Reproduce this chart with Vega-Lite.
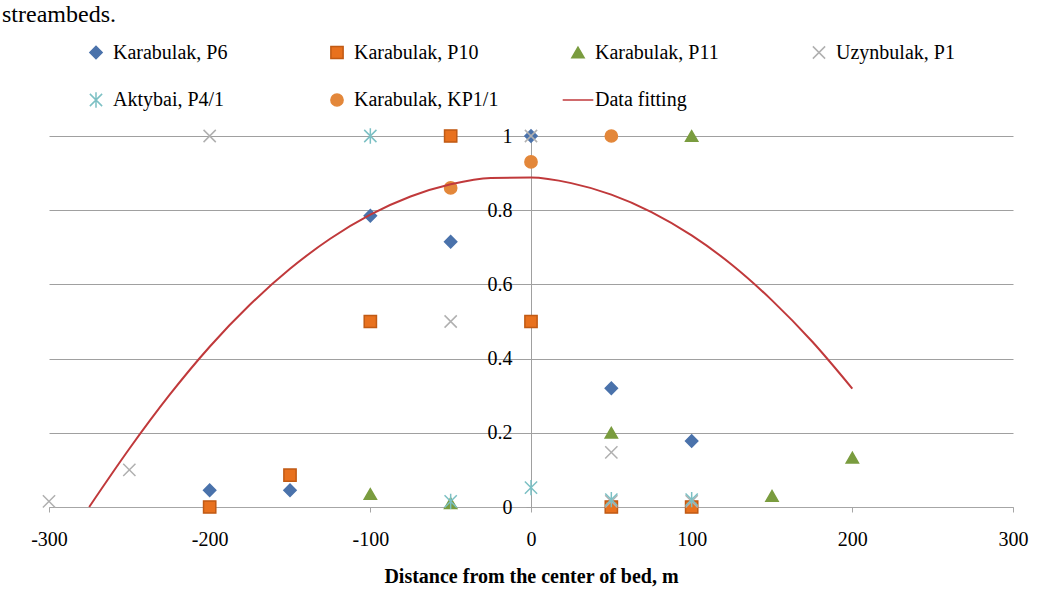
{
  "$schema": "https://vega.github.io/schema/vega-lite/v6.json",
  "width": 964,
  "height": 371,
  "autosize": {"type": "none"},
  "padding": {"left": 49, "top": 136, "right": 25, "bottom": 98},
  "background": "white",
  "title": {"text": "streambeds.", "anchor": "start", "frame": "group", "fontSize": 24, "font": "Liberation Serif", "fontWeight": "normal", "color": "black", "baseline": "top", "offset": 15, "dx": -47},
  "config": {"view": {"stroke": null}, "font": "Liberation Serif"},
  "datasets": {
    "points": [
      {"series": "Karabulak, P6", "x": -200, "y": 0.045},
      {"series": "Karabulak, P6", "x": -150, "y": 0.045},
      {"series": "Karabulak, P6", "x": -100, "y": 0.785},
      {"series": "Karabulak, P6", "x": -50, "y": 0.715},
      {"series": "Karabulak, P6", "x": 0, "y": 1},
      {"series": "Karabulak, P6", "x": 50, "y": 0.32},
      {"series": "Karabulak, P6", "x": 100, "y": 0.178},
      {"series": "Karabulak, P10", "x": -200, "y": 0},
      {"series": "Karabulak, P10", "x": -150, "y": 0.086},
      {"series": "Karabulak, P10", "x": -100, "y": 0.5},
      {"series": "Karabulak, P10", "x": -50, "y": 1},
      {"series": "Karabulak, P10", "x": 0, "y": 0.5},
      {"series": "Karabulak, P10", "x": 50, "y": 0},
      {"series": "Karabulak, P10", "x": 100, "y": 0},
      {"series": "Karabulak, P11", "x": -100, "y": 0.035},
      {"series": "Karabulak, P11", "x": -50, "y": 0.01},
      {"series": "Karabulak, P11", "x": 50, "y": 0.2},
      {"series": "Karabulak, P11", "x": 100, "y": 1},
      {"series": "Karabulak, P11", "x": 150, "y": 0.03},
      {"series": "Karabulak, P11", "x": 200, "y": 0.133},
      {"series": "Uzynbulak, P1", "x": -300, "y": 0.015},
      {"series": "Uzynbulak, P1", "x": -250, "y": 0.1},
      {"series": "Uzynbulak, P1", "x": -200, "y": 1},
      {"series": "Uzynbulak, P1", "x": -50, "y": 0.5},
      {"series": "Uzynbulak, P1", "x": 0, "y": 1},
      {"series": "Uzynbulak, P1", "x": 50, "y": 0.147},
      {"series": "Uzynbulak, P1", "x": 50, "y": 0.015},
      {"series": "Uzynbulak, P1", "x": 100, "y": 0.015},
      {"series": "Aktybai, P4/1", "x": -100, "y": 1},
      {"series": "Aktybai, P4/1", "x": -50, "y": 0.015},
      {"series": "Aktybai, P4/1", "x": 0, "y": 0.052},
      {"series": "Aktybai, P4/1", "x": 50, "y": 0.02},
      {"series": "Aktybai, P4/1", "x": 100, "y": 0.02},
      {"series": "Karabulak, KP1/1", "x": -50, "y": 0.86},
      {"series": "Karabulak, KP1/1", "x": 0, "y": 0.93},
      {"series": "Karabulak, KP1/1", "x": 50, "y": 1}
    ],
    "fit": [
      {"x": -275, "y": 0},
      {"x": -250, "y": 0.157},
      {"x": -225, "y": 0.302},
      {"x": -200, "y": 0.432},
      {"x": -175, "y": 0.545},
      {"x": -150, "y": 0.642},
      {"x": -125, "y": 0.723},
      {"x": -100, "y": 0.788},
      {"x": -75, "y": 0.837},
      {"x": -50, "y": 0.87},
      {"x": -25, "y": 0.887},
      {"x": 0, "y": 0.888},
      {"x": 25, "y": 0.873},
      {"x": 50, "y": 0.842},
      {"x": 75, "y": 0.795},
      {"x": 100, "y": 0.732},
      {"x": 125, "y": 0.653},
      {"x": 150, "y": 0.557},
      {"x": 175, "y": 0.446},
      {"x": 200, "y": 0.319}
    ]
  },
  "layer": [
    {
      "data": {"name": "points"},
      "mark": {"type": "point", "size": 150, "opacity": 1, "strokeWidth": 1.5},
      "encoding": {
        "x": {
          "field": "x", "type": "quantitative",
          "scale": {"domain": [-300, 300], "nice": false, "zero": false},
          "axis": {
            "title": "Distance from the center of bed, m",
            "values": [-300, -200, -100, 0, 100, 200, 300],
            "labelExpr": "datum.value < 0 ? '-' + abs(datum.value) : '' + datum.value",
            "labelFlush": false,
            "grid": false,
            "domainColor": "#a6a6a6", "tickColor": "#a6a6a6", "tickSize": 5,
            "labelFont": "Liberation Serif", "labelFontSize": 20, "labelColor": "black", "labelPadding": 17,
            "titleFont": "Liberation Serif", "titleFontSize": 20, "titleFontWeight": "bold", "titleColor": "black", "titlePadding": 17
          }
        },
        "y": {
          "field": "y", "type": "quantitative",
          "scale": {"domain": [0, 1], "nice": false},
          "axis": {
            "title": null,
            "values": [0, 0.2, 0.4, 0.6, 0.8, 1],
            "format": ".1~f",
            "offset": -482,
            "grid": true, "gridColor": "#a0a0a0", "gridWidth": 1,
            "domainColor": "#a0a0a0", "tickColor": "#a0a0a0", "tickSize": 5,
            "labelFont": "Liberation Serif", "labelFontSize": 20, "labelColor": "black", "labelPadding": 14
          }
        },
        "fill": {
          "field": "series", "type": "nominal",
          "scale": {
            "domain": ["Karabulak, P6", "Karabulak, P10", "Karabulak, P11", "Uzynbulak, P1", "Aktybai, P4/1", "Karabulak, KP1/1", "Data fitting"],
            "range": ["#4a72ab", "#e8711e", "#7a9c3f", "#b0b0b0", "#7cc0c4", "#e3873a", "#c0393b"]
          },
          "legend": {"title": null, "orient": "none", "direction": "horizontal", "legendX": 37, "legendY": -94, "columns": 4, "gridAlign": "all", "columnPadding": 60, "rowPadding": 26, "symbolSize": 150, "symbolStrokeWidth": 1.5, "labelFont": "Liberation Serif", "labelFontSize": 20, "labelColor": "black", "labelOffset": 7, "labelLimit": 300, "padding": 0}
        },
        "stroke": {
          "field": "series", "type": "nominal",
          "scale": {
            "domain": ["Karabulak, P6", "Karabulak, P10", "Karabulak, P11", "Uzynbulak, P1", "Aktybai, P4/1", "Karabulak, KP1/1", "Data fitting"],
            "range": ["#4a72ab", "#c05a14", "#7a9c3f", "#b0b0b0", "#7cc0c4", "#e3873a", "#c0393b"]
          },
          "legend": {"title": null, "orient": "none", "direction": "horizontal", "legendX": 37, "legendY": -94, "columns": 4, "gridAlign": "all", "columnPadding": 60, "rowPadding": 26, "symbolSize": 150, "symbolStrokeWidth": 1.5, "labelFont": "Liberation Serif", "labelFontSize": 20, "labelColor": "black", "labelOffset": 7, "labelLimit": 300, "padding": 0}
        },
        "shape": {
          "field": "series", "type": "nominal",
          "scale": {
            "domain": ["Karabulak, P6", "Karabulak, P10", "Karabulak, P11", "Uzynbulak, P1", "Aktybai, P4/1", "Karabulak, KP1/1", "Data fitting"],
            "range": ["diamond", "square", "triangle-up", "M-1,-1L1,1M-1,1L1,-1", "M-1,-1L1,1M-1,1L1,-1M0,-1.25L0,1.25", "circle", "M-2.5,0L2.5,0"]
          },
          "legend": {"title": null, "orient": "none", "direction": "horizontal", "legendX": 37, "legendY": -94, "columns": 4, "gridAlign": "all", "columnPadding": 60, "rowPadding": 26, "symbolSize": 150, "symbolStrokeWidth": 1.5, "labelFont": "Liberation Serif", "labelFontSize": 20, "labelColor": "black", "labelOffset": 7, "labelLimit": 300, "padding": 0}
        }
      }
    },
    {
      "data": {"name": "fit"},
      "mark": {"type": "line", "stroke": "#c0393b", "strokeWidth": 2, "interpolate": "monotone"},
      "encoding": {
        "x": {"field": "x", "type": "quantitative"},
        "y": {"field": "y", "type": "quantitative"}
      }
    }
  ]
}
